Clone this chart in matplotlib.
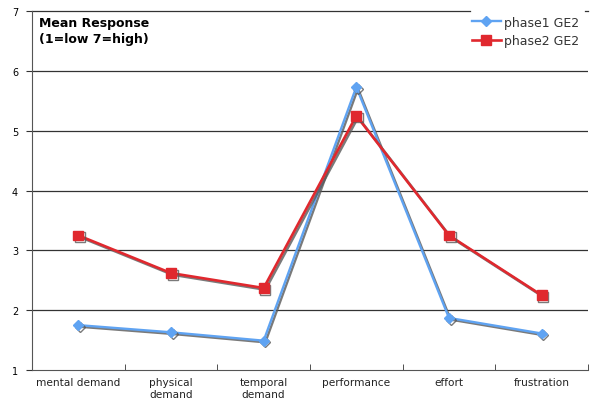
import numpy as np
import matplotlib
matplotlib.use("Agg")
from matplotlib import pyplot as plt
from matplotlib.lines import Line2D
import matplotlib.patheffects as pe

categories = ["mental demand", "physical\ndemand", "temporal\ndemand",
              "performance", "effort", "frustration"]
phase1 = [1.75, 1.63, 1.49, 5.73, 1.87, 1.61]
phase2 = [3.25, 2.62, 2.37, 5.25, 3.25, 2.25]
yticks = [1, 2, 3, 4, 5, 6, 7]

blue = "#5fa3f2"
red = "#e0282e"

plt.rcParams["font.family"] = "DejaVu Sans"

fig = plt.figure(figsize=(5.9, 4.02), dpi=100)
ax = fig.add_axes([32 / 590, 31 / 402, 556 / 590, 359 / 402])

x = np.arange(len(categories))
shadow = [pe.SimpleLineShadow(offset=(1.2, -1.2), shadow_color="0.35", alpha=0.8), pe.Normal()]

ax.plot(x, phase1, color=blue, lw=1.7, marker="D", ms=5,
        path_effects=shadow, zorder=3)
ax.plot(x, phase2, color=red, lw=1.9, marker="s", ms=7,
        path_effects=shadow, zorder=4)

ax.set_xlim(-0.5, len(categories) - 0.5)
ax.set_ylim(1, 7)
ax.set_yticks(yticks)
ax.set_yticklabels([str(v) for v in yticks], fontsize=7)
for v in yticks[1:-1]:
    ax.axhline(v, color="#333333", lw=0.9, zorder=1)
# top gridline is interrupted by the legend box
ax.axhline(yticks[-1], xmax=(470 - 32) / 556, color="#333333", lw=0.9, zorder=1, clip_on=False)
ax.axhline(yticks[-1], xmin=(585 - 32) / 556, color="#333333", lw=0.9, zorder=1, clip_on=False)

ax.set_xticks(x)
ax.set_xticklabels(categories, fontsize=7.6, color="#222222", linespacing=1.3)
ax.set_xticks(np.arange(len(categories) + 1) - 0.5, minor=True)
ax.tick_params(axis="x", which="major", length=0, pad=5)
ax.tick_params(axis="x", which="minor", length=4, direction="in", color="#333333")
ax.tick_params(axis="y", length=4, width=0.8, pad=6, color="#333333")

for s in ["top", "right"]:
    ax.spines[s].set_visible(False)
ax.spines["left"].set_color("#555555")
ax.spines["bottom"].set_color("#555555")

ax.text(0.013, 0.985, "Mean Response\n(1=low 7=high)", transform=ax.transAxes,
        fontsize=9, fontweight="bold", va="top", ha="left", linespacing=1.3)

# legend with plain handles (no shadow)
handles = [Line2D([], [], color=blue, lw=1.7, marker="D", ms=5),
           Line2D([], [], color=red, lw=1.9, marker="s", ms=7)]
leg = fig.legend(handles, ["phase1 GE2", "phase2 GE2"], loc="upper left",
                 bbox_to_anchor=(468 / 590, 1 - 13 / 402), fontsize=9,
                 frameon=False, handlelength=2.3, handletextpad=0.3,
                 borderpad=0.3, labelspacing=0.45, borderaxespad=0)
for t in leg.get_texts():
    t.set_color("#333333")
leg.set_zorder(10)

fig.savefig("out.png", dpi=100)
